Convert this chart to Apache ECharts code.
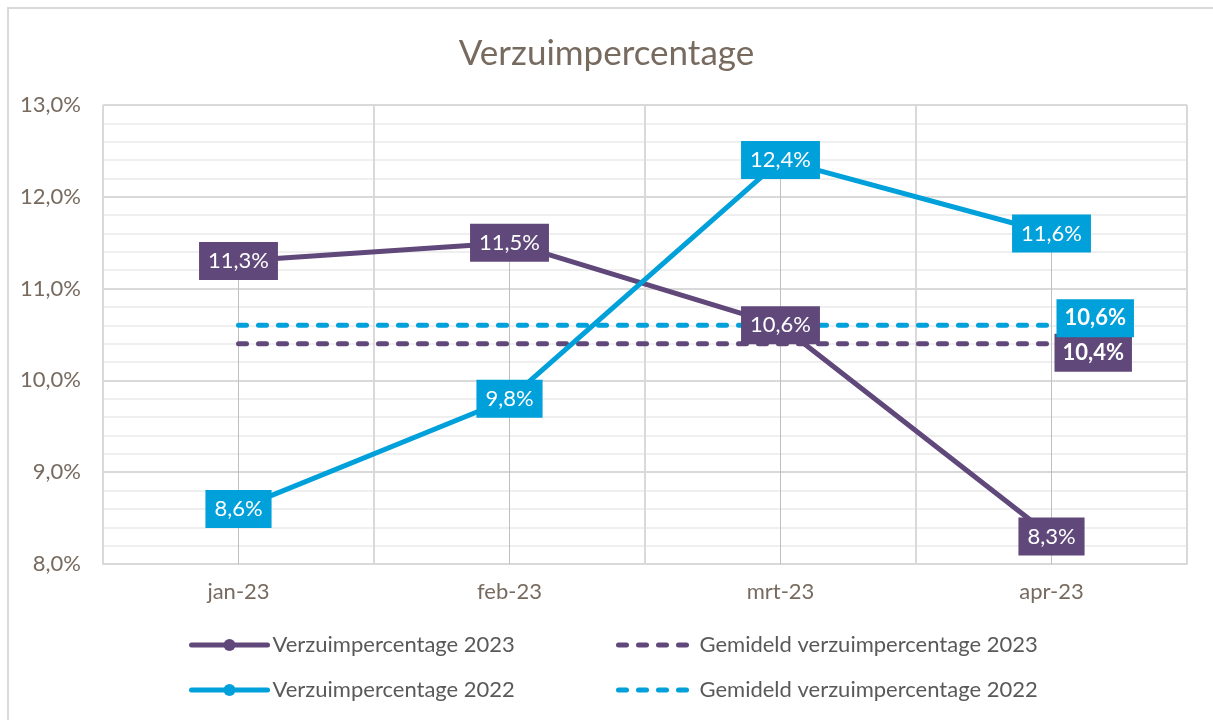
<!DOCTYPE html>
<html>
<head>
<meta charset="utf-8">
<script src="https://cdn.jsdelivr.net/npm/echarts@6/dist/echarts.min.js"></script>
<style>
  html, body { margin: 0; padding: 0; background: #fff; }
  #chart { width: 1213px; height: 720px; }
</style>
</head>
<body>
<div id="chart"></div>
<script>
// Chart data
const months = ['jan-23', 'feb-23', 'mrt-23', 'apr-23'];
const verzuim2023 = [11.3, 11.5, 10.6, 8.3];
const verzuim2022 = [8.6, 9.8, 12.4, 11.6];
const gemiddeld2023 = [10.4, 10.4, 10.4, 10.4];
const gemiddeld2022 = [10.6, 10.6, 10.6, 10.6];

const PURPLE = '#60497a';
const BLUE = '#00a0da';
const FONT = 'Lato, Carlito, sans-serif';
const AXIS_TEXT = '#776a5f';

const fmt = v => v.toFixed(1).replace('.', ',') + '%';

// drop lines go from the highest point in each month down to the axis
const dropLines = months.map((m, i) => Math.max(verzuim2023[i], verzuim2022[i]));

const pointLabel = (color) => ({
    show: true,
    position: 'inside',
    formatter: p => fmt(p.value),
    color: '#fff',
    fontSize: 22,
    lineHeight: 22,
    fontFamily: FONT,
    backgroundColor: color,
    padding: [8, 9, 8, 9]
});

// averages only get a label at the end of the line
const avgLabel = (color, offset, distance) => ({
    show: true,
    distance: distance,
    offset: offset,
    formatter: p => fmt(p.value),
    color: '#fff',
    fontSize: 22,
    lineHeight: 22,
    fontWeight: 'bold',
    fontFamily: FONT,
    backgroundColor: color,
    padding: [8, 8, 8, 8]
});

const legendText = { fontSize: 22, color: '#595959', lineHeight: 26, fontFamily: FONT };

const chart = echarts.init(document.getElementById('chart'));

const option = {
    backgroundColor: '#fff',
    animation: false,
    textStyle: { fontFamily: FONT },
    graphic: [{
        type: 'rect',
        shape: { x: 8, y: 8, width: 1230, height: 740 },
        style: { fill: 'none', stroke: '#d9d9d9', lineWidth: 2 },
        silent: true
    }],
    title: {
        text: 'Verzuimpercentage',
        left: 'center',
        top: 31,
        textStyle: { fontSize: 35, fontWeight: 'normal', color: AXIS_TEXT, fontFamily: FONT }
    },
    legend: [
        {
            orient: 'vertical',
            left: 189,
            top: 632,
            padding: 0,
            itemWidth: 76,
            itemHeight: 15,
            itemGap: 19,
            data: ['Verzuimpercentage 2023', 'Verzuimpercentage 2022'],
            lineStyle: { width: 5, cap: 'round' },
            textStyle: legendText
        },
        {
            orient: 'vertical',
            left: 616,
            top: 632,
            padding: 0,
            itemWidth: 76,
            itemHeight: 15,
            itemGap: 19,
            data: ['Gemideld verzuimpercentage 2023', 'Gemideld verzuimpercentage 2022'],
            lineStyle: { width: 5, cap: 'round' },
            textStyle: legendText
        }
    ],
    grid: { left: 103, right: 26, top: 105, bottom: 156 },
    xAxis: {
        type: 'category',
        data: months,
        boundaryGap: true,
        axisLine: { lineStyle: { color: '#d9d9d9', width: 2 } },
        axisTick: { show: false },
        axisLabel: { color: AXIS_TEXT, fontSize: 22, margin: 17, fontFamily: FONT },
        splitLine: { show: true, lineStyle: { color: '#d9d9d9', width: 2 } }
    },
    yAxis: {
        type: 'value',
        min: 8,
        max: 13,
        interval: 1,
        axisLine: { show: false },
        axisTick: { show: false },
        axisLabel: { color: AXIS_TEXT, fontSize: 22, margin: 22, formatter: fmt, fontFamily: FONT },
        splitLine: { lineStyle: { color: '#d9d9d9', width: 2 } },
        minorTick: { show: false, splitNumber: 5 },
        minorSplitLine: { show: true, lineStyle: { color: '#efefef', width: 2 } }
    },
    series: [
        {
            name: 'drop',
            type: 'bar',
            data: dropLines,
            barWidth: 1,
            silent: true,
            clip: true,
            itemStyle: { color: '#bfbfbf' },
            z: 1
        },
        {
            name: 'Gemideld verzuimpercentage 2023',
            type: 'line',
            data: gemiddeld2023,
            symbol: 'none',
            lineStyle: { color: PURPLE, width: 5, type: [8, 12], cap: 'round' },
            itemStyle: { color: 'rgba(0,0,0,0)' },
            endLabel: avgLabel(PURPLE, [0, 9], 3),
            z: 3
        },
        {
            name: 'Gemideld verzuimpercentage 2022',
            type: 'line',
            data: gemiddeld2022,
            symbol: 'none',
            lineStyle: { color: BLUE, width: 5, type: [8, 12], cap: 'round' },
            itemStyle: { color: 'rgba(0,0,0,0)' },
            endLabel: avgLabel(BLUE, [0, -7], 5),
            z: 4
        },
        {
            name: 'Verzuimpercentage 2023',
            type: 'line',
            data: verzuim2023,
            symbol: 'circle',
            symbolSize: 9,
            lineStyle: { color: PURPLE, width: 5 },
            itemStyle: { color: PURPLE },
            label: pointLabel(PURPLE),
            z: 5
        },
        {
            name: 'Verzuimpercentage 2022',
            type: 'line',
            data: verzuim2022,
            symbol: 'circle',
            symbolSize: 9,
            lineStyle: { color: BLUE, width: 5 },
            itemStyle: { color: BLUE },
            label: pointLabel(BLUE),
            z: 5
        }
    ]
};

chart.setOption(option);
</script>
</body>
</html>
